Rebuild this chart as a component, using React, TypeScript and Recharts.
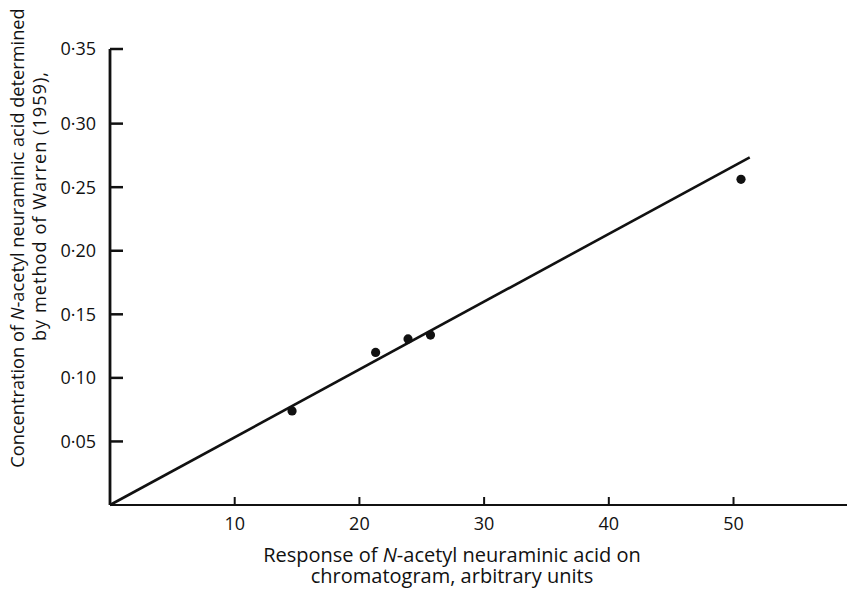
import React from "react";
import {
  ComposedChart,
  XAxis,
  YAxis,
  Scatter,
  ReferenceLine,
  Label,
} from "recharts";

// Chromatogram response (arbitrary units) for each sample
const responses = [14.6, 21.3, 23.9, 25.7, 50.6];
// N-acetyl neuraminic acid concentration by the Warren (1959) method
const concentrations = [0.074, 0.12, 0.1306, 0.1337, 0.2562];

// Fitted line through the origin
const fitStart = { x: 0, y: 0 };
const fitEnd = { x: 51.3, y: 0.2735 };

const xTicks = [10, 20, 30, 40, 50];
const xTickLabels = ["10", "20", "30", "40", "50"];
const yTicks = [0.05, 0.1, 0.15, 0.2, 0.25, 0.3, 0.3587];
const yTickLabels = ["0·05", "0·10", "0·15", "0·20", "0·25", "0·30", "0·35"];

const xDomain: [number, number] = [0, 59.1];
const yDomain: [number, number] = [0, 0.3587];

const points = responses.map((x, i) => ({ x, y: concentrations[i] }));

const FONT = "'Open Sans', sans-serif";
const INK = "#111";

const XTitle = () => (
  <g fontFamily={FONT} fill={INK} style={{ fontSize: 20 }}>
    <text x={452} y={562} textAnchor="middle">
      Response of <tspan fontStyle="italic">N</tspan>-acetyl neuraminic acid on
    </text>
    <text x={452} y={583} textAnchor="middle">
      chromatogram, arbitrary units
    </text>
  </g>
);

const YTitle = () => (
  <g fontFamily={FONT} fill={INK} style={{ fontSize: 18.2 }}>
    <text
      x={24}
      y={238}
      textAnchor="middle"
      transform="rotate(-90 24 238)"
    >
      Concentration of <tspan fontStyle="italic">N</tspan>-acetyl neuraminic
      acid determined
    </text>
    <text
      x={46}
      y={206}
      textAnchor="middle"
      letterSpacing={1}
      transform="rotate(-90 46 206)"
    >
      by method of Warren (1959),
    </text>
  </g>
);

export default function App() {
  return (
    <div style={{ position: "absolute", left: 0, top: 0, background: "#fff" }}>
      <ComposedChart
        width={847}
        height={589}
        data={points}
        margin={{ top: 49, right: 0, bottom: 0, left: 0 }}
      >
        <XAxis
          type="number"
          dataKey="x"
          domain={xDomain}
          ticks={xTicks}
          interval={0}
          allowDataOverflow
          height={84}
          tickSize={-8}
          tickMargin={20}
          tickFormatter={(v: number) => xTickLabels[xTicks.indexOf(v)] ?? ""}
          axisLine={{ stroke: INK, strokeWidth: 2.2 }}
          tickLine={{ stroke: INK, strokeWidth: 2 }}
          tick={{ fill: INK, fontSize: 18, fontFamily: FONT }}
        >
          <Label content={<XTitle />} />
        </XAxis>
        <YAxis
          type="number"
          dataKey="y"
          domain={yDomain}
          ticks={yTicks}
          interval={0}
          allowDataOverflow
          width={110}
          tickSize={-13}
          tickMargin={27}
          tickFormatter={(v: number) => yTickLabels[yTicks.indexOf(v)] ?? ""}
          axisLine={{ stroke: INK, strokeWidth: 2.8 }}
          tickLine={{ stroke: INK, strokeWidth: 2.5 }}
          tick={{ fill: INK, fontSize: 18, fontFamily: FONT }}
        >
          <Label content={<YTitle />} />
        </YAxis>
        <ReferenceLine
          segment={[fitStart, fitEnd]}
          stroke={INK}
          strokeWidth={2.6}
          ifOverflow="visible"
        />
        <Scatter
          data={points}
          dataKey="y"
          fill={INK}
          isAnimationActive={false}
          shape={(p: any) => <circle cx={p.cx} cy={p.cy} r={4.6} fill={INK} />}
        />
      </ComposedChart>
    </div>
  );
}
